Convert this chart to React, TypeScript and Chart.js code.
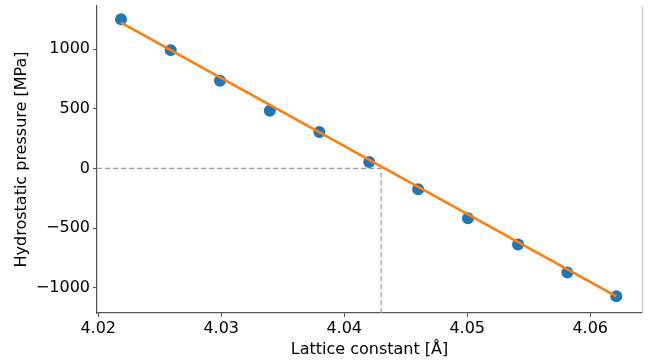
import React, { useEffect, useRef } from "react";
import { Chart, registerables } from "chart.js";

Chart.register(...registerables);

const latticeConstants = [4.02185, 4.02589, 4.0299, 4.03395, 4.03798, 4.04203, 4.04601, 4.05006, 4.05413, 4.05814, 4.06212];
const pressures = [1250, 992, 736, 483, 305, 55, -175, -417, -637, -872, -1072];
const fitX = [4.02185, 4.06212];
const fitY = [1222, -1073];
const zeroLattice = 4.043;
const xTicks = [4.02, 4.03, 4.04, 4.05, 4.06];
const yTicks = [-1000, -500, 0, 500, 1000];
const xMin = 4.0199;
const xMax = 4.06421;
const yMin = -1212;
const yMax = 1362;

const FONT = "'DejaVu Sans', sans-serif";

const spinePlugin = {
  id: "spines",
  afterDatasetsDraw(chart: any) {
    const { ctx, chartArea } = chart;
    ctx.save();
    ctx.strokeStyle = "#cccccc";
    ctx.lineWidth = 1.2;
    ctx.beginPath();
    ctx.moveTo(chartArea.right + 0.5, chartArea.top);
    ctx.lineTo(chartArea.right + 0.5, chartArea.bottom);
    ctx.stroke();
    ctx.restore();
  },
};

export default function App() {
  const ref = useRef<HTMLCanvasElement | null>(null);
  useEffect(() => {
    document.body.style.margin = "0";
    if (!ref.current) return;
    const chart = new Chart(ref.current, {
      type: "scatter",
      data: {
        datasets: [
          {
            data: fitX.map((x, i) => ({ x, y: fitY[i] })),
            showLine: true,
            borderColor: "#ff7f0e",
            borderWidth: 2.6,
            pointRadius: 0,
            order: 0,
          },
          {
            data: latticeConstants.map((x, i) => ({ x, y: pressures[i] })),
            backgroundColor: "#1f77b4",
            borderWidth: 0,
            pointRadius: 6,
            order: 1,
          },
          {
            data: [
              { x: xMin, y: 0 },
              { x: zeroLattice, y: 0 },
              { x: zeroLattice, y: yMin },
            ],
            showLine: true,
            borderColor: "#999999",
            borderWidth: 1.2,
            borderDash: [5, 3],
            pointRadius: 0,
            order: 2,
          },
        ],
      },
      options: {
        animation: false,
        responsive: false,
        maintainAspectRatio: false,
        layout: { padding: { top: 5, right: 14, bottom: 1, left: 0 } },
        plugins: { legend: { display: false }, tooltip: { enabled: false } },
        scales: {
          x: {
            type: "linear",
            min: xMin,
            max: xMax,
            afterBuildTicks: (s: any) => {
              s.ticks = xTicks.map((v) => ({ value: v }));
            },
            afterFit: (s: any) => {
              s.height = 47;
              s.paddingLeft = 0;
              s.paddingRight = 0;
            },
            grid: { drawOnChartArea: false, drawTicks: true, tickLength: 4, tickColor: "#555", tickWidth: 1 },
            border: { display: true, color: "#555", width: 1.2 },
            ticks: {
              color: "#000",
              font: { family: FONT, size: 16 },
              padding: 2,
              maxRotation: 0,
              callback: (v: any) => Number(v).toFixed(2),
            },
            title: {
              display: true,
              text: "Lattice constant [Å]",
              color: "#000",
              font: { family: FONT, size: 16 },
              padding: { top: 0, bottom: 1 },
            },
          },
          y: {
            type: "linear",
            min: yMin,
            max: yMax,
            afterBuildTicks: (s: any) => {
              s.ticks = yTicks.map((v) => ({ value: v }));
            },
            afterFit: (s: any) => {
              s.width = 97;
              s.paddingTop = 0;
              s.paddingBottom = 0;
            },
            grid: { drawOnChartArea: false, drawTicks: true, tickLength: 4, tickColor: "#555", tickWidth: 1 },
            border: { display: true, color: "#555", width: 1.2 },
            ticks: {
              color: "#000",
              font: { family: FONT, size: 16 },
              padding: 3,
              callback: (v: any) => (v < 0 ? "\u2212" + Math.abs(v) : String(v)),
            },
            title: {
              display: true,
              text: "Hydrostatic pressure [MPa]",
              color: "#000",
              font: { family: FONT, size: 16 },
              padding: { top: 12, bottom: 0 },
            },
          },
        },
      },
      plugins: [spinePlugin],
    } as any);
    return () => chart.destroy();
  }, []);
  return (
    <div style={{ position: "absolute", left: 0, top: 0, width: 656, height: 361 }}>
      <canvas ref={ref} width={656} height={361} style={{ width: 656, height: 361 }} />
    </div>
  );
}
